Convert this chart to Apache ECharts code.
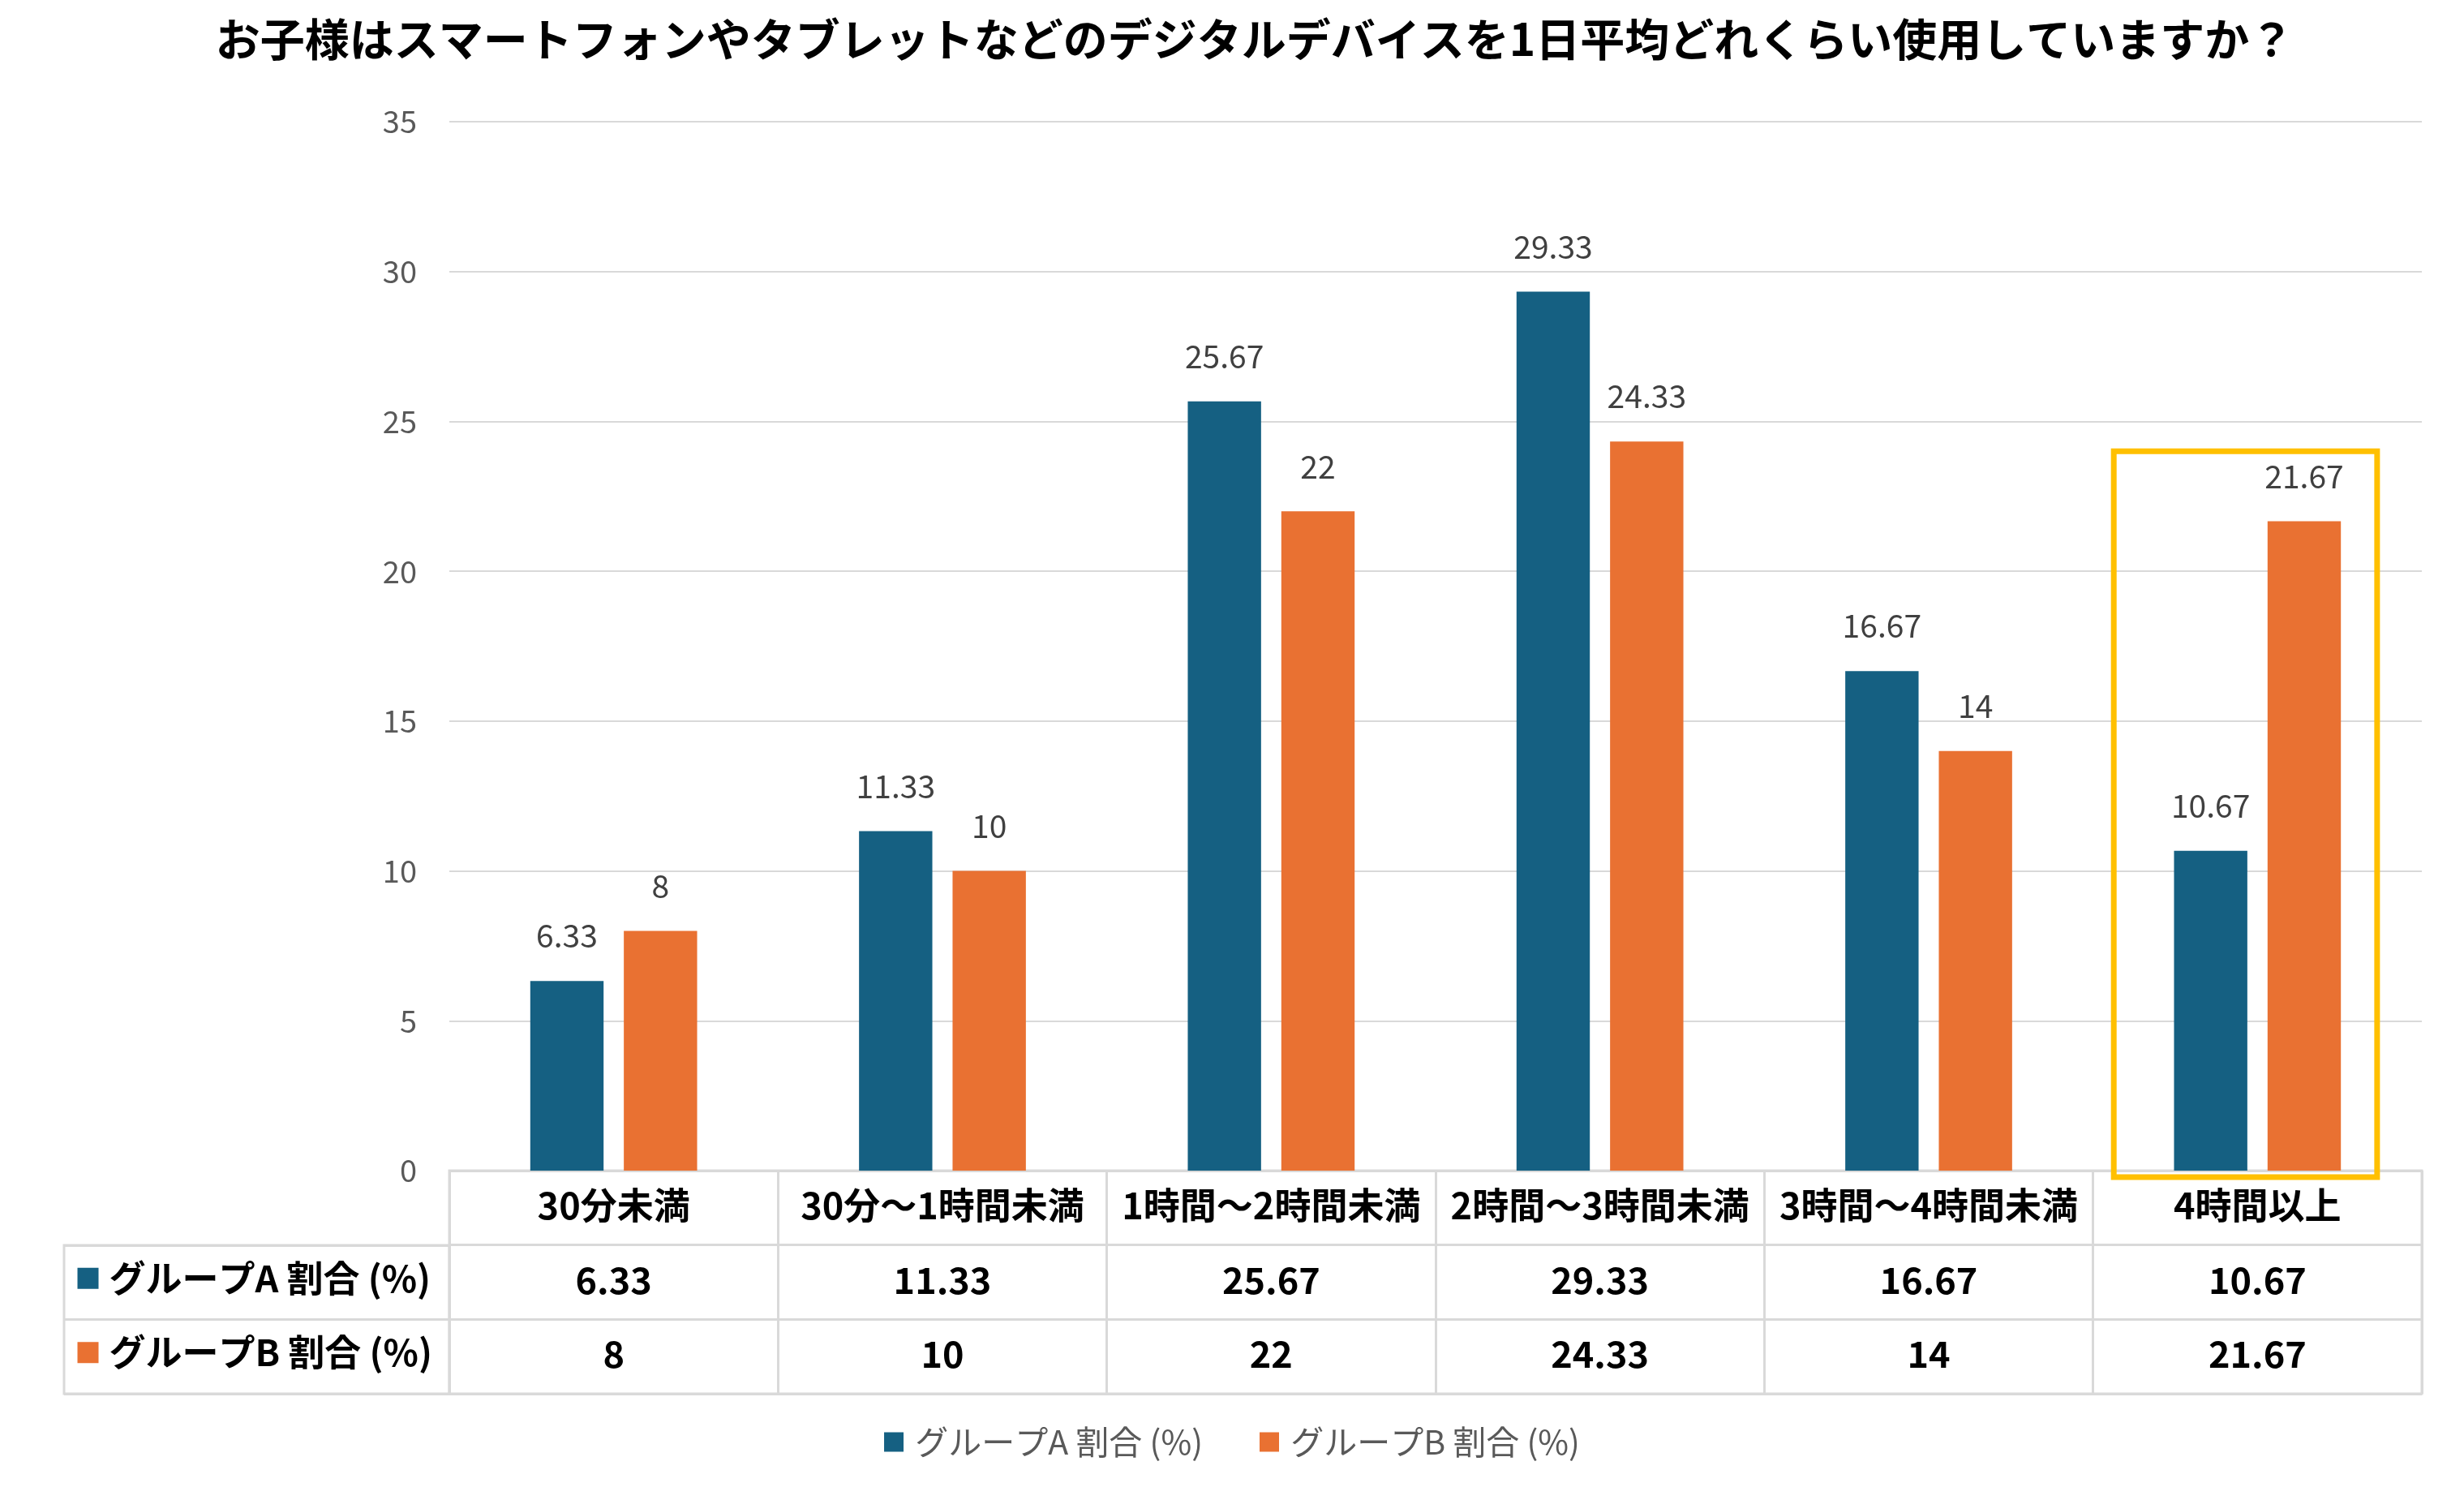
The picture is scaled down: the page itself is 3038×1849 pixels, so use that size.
<!DOCTYPE html>
<html>
<head>
<meta charset="utf-8">
<script src="https://cdn.jsdelivr.net/npm/echarts@6/dist/echarts.min.js"></script>
<style>
html,body{margin:0;padding:0;background:#fff;}
#chart{width:3038px;height:1849px;}
</style>
</head>
<body>
<div id="chart"></div>
<script>
const titleText = 'お子様はスマートフォンやタブレットなどのデジタルデバイスを1日平均どれくらい使用していますか？';
const categories = ['30分未満', '30分～1時間未満', '1時間～2時間未満', '2時間～3時間未満', '3時間～4時間未満', '4時間以上'];
const groupA = [6.33, 11.33, 25.67, 29.33, 16.67, 10.67];
const groupB = [8, 10, 22, 24.33, 14, 21.67];
const seriesNames = ['グループA 割合 (%)', 'グループB 割合 (%)'];
const yMin = 0, yMax = 35, yStep = 5;
const highlightCategory = '4時間以上';
const highlightTop = 24;

const colors = ['#156082', '#E97132'];
const FONT = '"Noto Sans CJK JP", "Noto Sans", sans-serif';
const BORDER = '#D9D9D9';

const rowKeys = ['header', 'A', 'B'];
const headerData = categories.map(c => ({ value: [c, 'header'], text: c }));
const rowAData = categories.map((c, i) => ({ value: [c, 'A'], text: String(groupA[i]) }));
const rowBData = categories.map((c, i) => ({ value: [c, 'B'], text: String(groupB[i]) }));
const rowLabelData = seriesNames.map((n, i) => ({ value: [0, n], text: '{sq' + i + '|}{t|' + n + '}' }));

const hiddenItem = { color: 'rgba(0,0,0,0)', opacity: 1 };

function cellSeries(name, data) {
  return {
    name: name, type: 'scatter', xAxisIndex: 1, yAxisIndex: 1,
    symbolSize: 1, itemStyle: hiddenItem, silent: true,
    data: data,
    label: {
      show: true, position: 'inside', offset: [0, -3],
      formatter: p => p.data.text,
      fontFamily: FONT, fontSize: 45, fontWeight: 'bold', color: '#000'
    }
  };
}

const chart = echarts.init(document.getElementById('chart'));
const option = {
  backgroundColor: '#fff',
  animation: false,
  textStyle: { fontFamily: FONT },
  title: {
    text: titleText, left: 1542, top: 16, textAlign: 'center',
    textStyle: { fontFamily: FONT, fontSize: 55, fontWeight: 'bold', color: '#000' }
  },
  legend: {
    data: seriesNames, left: 'center', top: 1752,
    icon: 'rect', itemWidth: 24, itemHeight: 24, itemGap: 70,
    formatter: n => ' ' + n,
    textStyle: { fontFamily: FONT, fontSize: 41, color: '#595959' }
  },
  grid: [
    { left: 554, right: 52, top: 150, bottom: 406 },
    { left: 554, right: 52, top: 1443, bottom: 131, show: true, borderColor: BORDER, borderWidth: 3, backgroundColor: 'transparent' },
    { left: 79, right: 2484, top: 1535, bottom: 131, show: true, borderColor: BORDER, borderWidth: 3, backgroundColor: 'transparent' }
  ],
  xAxis: [
    { type: 'category', gridIndex: 0, data: categories,
      axisLine: { show: false }, axisTick: { show: false }, axisLabel: { show: false } },
    { type: 'category', gridIndex: 1, data: categories,
      axisLine: { show: false }, axisTick: { show: false }, axisLabel: { show: false },
      splitLine: { show: true, interval: 0, lineStyle: { color: BORDER, width: 3 } } },
    { type: 'value', gridIndex: 2, min: 0, max: 1,
      axisLine: { show: false }, axisTick: { show: false }, axisLabel: { show: false }, splitLine: { show: false } }
  ],
  yAxis: [
    { type: 'value', gridIndex: 0, min: yMin, max: yMax, interval: yStep,
      axisLine: { show: false }, axisTick: { show: false },
      axisLabel: { margin: 40, fontFamily: FONT, fontSize: 38, color: '#595959' },
      splitLine: { lineStyle: { color: BORDER, width: 2 } } },
    { type: 'category', gridIndex: 1, data: rowKeys, inverse: true,
      axisLine: { show: false }, axisTick: { show: false }, axisLabel: { show: false },
      splitLine: { show: true, interval: 0, lineStyle: { color: BORDER, width: 3 } } },
    { type: 'category', gridIndex: 2, data: seriesNames, inverse: true,
      axisLine: { show: false }, axisTick: { show: false }, axisLabel: { show: false },
      splitLine: { show: true, interval: 0, lineStyle: { color: BORDER, width: 3 } } }
  ],
  series: [
    { name: seriesNames[0], type: 'bar', xAxisIndex: 0, yAxisIndex: 0, data: groupA,
      barWidth: '22.3%', barGap: '27.6%', itemStyle: { color: colors[0] },
      label: { show: true, position: 'top', distance: 36, fontFamily: FONT, fontSize: 39, color: '#404040' } },
    { name: seriesNames[1], type: 'bar', xAxisIndex: 0, yAxisIndex: 0, data: groupB,
      barWidth: '22.3%', barGap: '27.6%', itemStyle: { color: colors[1] },
      label: { show: true, position: 'top', distance: 36, fontFamily: FONT, fontSize: 39, color: '#404040' } },
    cellSeries('header', headerData),
    cellSeries('rowA', rowAData),
    cellSeries('rowB', rowBData),
    { name: 'rowLabels', type: 'scatter', xAxisIndex: 2, yAxisIndex: 2,
      symbolSize: 1, itemStyle: hiddenItem, silent: true,
      data: rowLabelData,
      label: {
        show: true, position: 'right', distance: 16, offset: [0, -5],
        formatter: p => p.data.text,
        rich: {
          sq0: { width: 26, height: 26, backgroundColor: colors[0] },
          sq1: { width: 26, height: 26, backgroundColor: colors[1] },
          t: { fontFamily: FONT, fontSize: 45, fontWeight: 'bold', color: '#000', padding: [0, 0, 0, 13] }
        }
      } }
  ]
};
chart.setOption(option);

// highlight box around the last category, positioned through the axes
const idx = categories.indexOf(highlightCategory);
const pC = chart.convertToPixel({ gridIndex: 0 }, [idx, highlightTop]);
const pPrev = chart.convertToPixel({ gridIndex: 0 }, [idx - 1, 0]);
const p0 = chart.convertToPixel({ gridIndex: 0 }, [idx, 0]);
const band = pC[0] - pPrev[0];
const bx1 = pC[0] - 0.437 * band, bx2 = pC[0] + 0.364 * band;
chart.setOption({
  graphic: [{
    type: 'rect', z: 100, silent: true,
    shape: { x: bx1, y: pC[1], width: bx2 - bx1, height: (p0[1] + 8) - pC[1] },
    style: { fill: 'none', stroke: '#FFC000', lineWidth: 7 }
  }]
});
</script>
</body>
</html>
